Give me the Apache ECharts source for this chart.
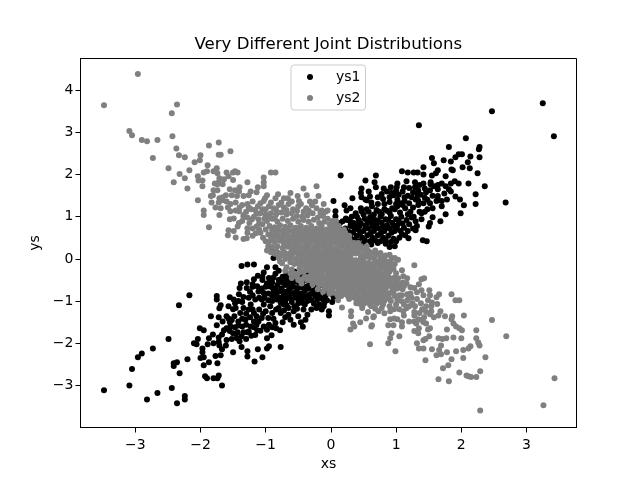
<!DOCTYPE html>
<html><head><meta charset="utf-8">
<style>html,body{margin:0;padding:0;background:#fff}#c{width:640px;height:480px}</style>
<script src="https://cdn.jsdelivr.net/npm/echarts@6/dist/echarts.min.js"></script>
</head><body><div id="c"></div>
<script>
const xTicks = [-3,-2,-1,0,1,2,3];
const yTicks = [-3,-2,-1,0,1,2,3,4];
const seriesNames = ["ys1","ys2"];
const ys1Outer = [[-3.48,-3.11],[-3.09,-3.0],[-2.82,-3.33],[-2.66,-3.18],[-2.44,-3.06],[-2.36,-3.42],[-2.24,-3.25],[-2.24,-3.33],[-3.05,-2.61],[-2.96,-2.33],[-2.9,-2.24],[-2.73,-2.12],[-2.49,-1.9],[-2.33,-1.1],[-2.17,-.86],[-2.41,-2.47],[-2.36,-2.45],[-2.41,-2.54],[-2.2,-2.38],[-2.32,-2.71],[-1.93,-2.78],[-1.9,-2.83],[-1.8,-2.83],[-1.74,-2.83],[-1.72,-2.76],[-1.67,-3.0],[-1.95,-2.52],[-2.0,-2.35],[-1.95,-2.33],[-1.87,-2.45],[-1.74,-2.47],[-1.77,-2.3],[-1.69,-2.28],[-1.97,-2.12],[-1.97,-2.21],[-2.06,-2.02],[-2.1,-2.0],[-2.04,-1.9],[-1.89,-2.02],[-1.87,-1.88],[-1.8,-2.0],[-1.81,-1.79],[-1.72,-1.86],[-1.72,-1.97],[-1.71,-2.05],[-1.67,-2.14],[-1.61,-2.05],[-2.01,-1.64],[-1.95,-1.69],[-1.84,-1.36],[-1.75,-1.57],[-1.72,-1.38],[-1.66,-1.48],[-1.57,-1.41],[-1.52,-1.45],[-1.75,-.88],[-1.75,-.96],[-1.69,-1.1],[-1.71,-1.17],[-1.55,-.91],[-1.49,-.96],[-1.57,-1.12],[-1.5,-1.19],[-1.47,-1.05],[-1.64,-1.69],[-1.6,-1.64],[-1.67,-1.79],[-1.54,-1.6],[-1.47,-1.62],[-1.55,-1.71],[-1.43,-1.74],[-1.44,-1.88],[-1.4,-1.95],[-1.34,-1.74],[-1.28,-1.74],[-1.37,-1.83],[-1.5,-2.21],[-1.37,-2.09],[-1.28,-2.19],[-1.28,-2.31],[-1.17,-2.43],[-1.05,-2.33],[-1.12,-2.14],[-.98,-2.12],[-.95,-2.07],[-.77,-2.09],[-.98,-1.88],[-.91,-1.81],[-.78,-1.69],[-1.37,-.17],[-1.28,-.13],[-1.18,-.13],[-1.03,-.32],[-1.05,-.43],[-1.05,-.5],[-1.29,-.55],[-1.18,-.48],[-1.38,-.58],[-1.4,-.69],[-1.41,-.84],[-1.29,-.69],[-.9,.18],[-.88,.02],[-1.13,-.65],[-1.11,-.77],[-1.03,-.81],[-.95,-.65],[-.88,-.77],[-.9,-.88],[-1.06,-.96],[-1.03,-1.08],[-.83,-.96],[-.77,-1.04],[-.8,-1.16],[-.77,-1.28],[-1.23,-1.08],[-1.26,-1.2],[-1.18,-1.28],[-1.34,-1.16],[-1.39,-1.28],[-1.31,-1.44],[-1.18,-1.48],[-1.23,-1.6],[-1.11,-1.48],[-1.13,-1.69],[-1.03,-1.6],[-.95,-1.56],[-.85,-1.52],[-1.04,-1.3],[-.93,-1.12],[-.65,-1.16],[-.65,-1.32],[-.57,-1.24],[-.62,-1.44],[-.57,-1.56],[-.36,-1.32],[-.39,-1.44],[-.43,-1.61],[-.67,-.57],[-.72,-.77],[-.59,-.61],[-.52,-.69],[-.47,-.49],[-.57,-.41],[-.77,-.49],[-.36,-.65],[-.44,-1.04],[-.32,-.96],[-.21,-.96],[-.11,-1.12],[-.03,-1.24],[-.03,-1.34],
[3.25,3.69],[3.42,2.91],[2.47,3.5],[1.35,3.17],[2.07,2.86],[1.81,2.65],[2.28,2.65],[2.27,2.6],[1.55,2.39],[1.58,2.27],[1.73,2.34],[1.84,2.31],[1.91,2.41],[1.96,2.48],[2.01,2.48],[2.14,2.43],[2.28,2.41],[2.1,2.29],[2.02,2.17],[2.13,2.15],[2.25,2.03],[1.42,2.17],[1.09,2.08],[1.18,2.05],[1.27,2.05],[1.33,2.05],[1.64,2.1],[1.61,2.03],[1.55,1.98],[1.42,2.0],[1.76,1.96],[1.87,2.1],[1.85,2.12],[.15,1.98],[.69,1.98],[.53,1.86],[.67,1.82],[.69,1.7],[.47,1.67],[.46,1.56],[.47,1.46],[.33,1.44],[.53,1.41],[.81,1.67],[.86,1.6],[.93,1.56],[.72,1.46],[.96,1.51],[1.02,1.79],[1.01,1.7],[1.12,1.7],[1.1,1.6],[1.13,1.46],[1.13,1.37],[1.29,1.82],[1.29,1.7],[1.36,1.75],[1.42,1.79],[1.53,1.82],[1.53,1.77],[1.44,1.67],[1.52,1.63],[1.64,1.75],[1.7,1.79],[1.64,1.65],[1.84,1.79],[1.9,1.84],[1.96,1.79],[2.11,1.79],[2.36,1.72],[2.22,1.53],[1.81,1.65],[1.84,1.6],[1.91,1.48],[1.98,1.41],[2.04,1.27],[2.22,1.3],[2.68,1.34],[1.99,1.08],[1.76,1.06],[1.68,.89],[1.56,.99],[1.52,.85],[1.5,.77],[1.78,1.41],[1.7,1.37],[1.62,1.37],[1.64,1.49],[1.64,1.41],[1.33,1.51],[1.24,1.46],[1.3,1.41],[1.42,1.32],[1.52,1.32],[1.48,1.18],[1.39,1.08],[1.39,.94],[1.27,1.0],[1.3,.89],[1.3,.68],[1.18,.66],[1.19,.49],[1.09,.58],[1.41,.44],[1.47,.42],[.04,1.37],[.21,1.27],[.3,1.2],[.24,1.15],[.38,1.08],[.46,1.2],[.47,1.13],[.63,1.25],[.55,1.39],[.07,1.01],[.07,1.13],[.23,.96],[.18,.89],[.43,.92],[.35,.85]];
const ys1Dense = [[.5,1.05],[.58,1.12],[.66,1.05],[.74,1.12],[.82,1.18],[.9,1.1],[.98,1.18],[1.06,1.1],[1.14,1.2],[1.22,1.12],[.52,.95],[.6,.98],[.68,.92],[.76,1.0],[.84,.94],[.92,1.02],[1.0,.94],[1.08,1.0],[1.16,.92],[1.24,.98],[.46,.84],[.54,.8],[.62,.86],[.7,.8],[.78,.86],[.86,.8],[.94,.86],[1.02,.8],[1.1,.84],[.42,.7],[.5,.66],[.58,.72],[.66,.66],[.74,.72],[.82,.66],[.9,.72],[.98,.66],[.4,.55],[.48,.5],[.56,.56],[.64,.5],[.72,.56],[.8,.5],[.88,.55],[.96,.48],[.22,.72],[.3,.78],[.38,.82],[.14,.85],[.34,.62],[.3,.5],[.42,.42],[.5,.36],[.62,.34],[.72,.38],[.84,.36],[.9,.28],[.98,.3],[.25,.92],
[-.85,-.35],[-.8,-.5],[-.74,-.42],[-.68,-.34],[-.62,-.5],[-.56,-.3],[-.5,-.55],[-.44,-.38],[-.38,-.5],[-.32,-.42],[-.26,-.58],[-.2,-.5],[-.14,-.62],[-.82,-.62],[-.76,-.7],[-.7,-.62],[-.64,-.72],[-.58,-.66],[-.52,-.78],[-.46,-.68],[-.4,-.76],[-.34,-.7],[-.28,-.82],[-.22,-.72],[-.16,-.78],[-.08,-.72],[-.72,-.85],[-.66,-.9],[-.6,-.82],[-.54,-.92],[-.48,-.85],[-.42,-.92],[-.36,-.88],[-.3,-.98],[-.24,-.88],[-.16,-.92],[-.08,-.86],[0,-.82],[.04,-.9],[-.7,-1.0],[-.6,-1.02],[-.5,-1.05],[-.4,-1.08],[-.95,-.45],[-.98,-.58],[-.9,-.55],[-.85,-.72],[-.96,-.82],[-.9,-1.0],
[-.3,.05],[-.1,.3],[.1,.2],[.2,.1],[-.2,-.2],[.05,-.1],[-.45,.12],[.28,.32],[.1,.55],[-.05,.62]];
const ys1Fill = [[.55,1.18],[.62,1.0],[.7,1.16],[.78,1.06],[.86,1.14],[.94,1.2],[1.02,1.25],[1.1,1.28],[1.18,1.06],[1.26,1.22],[1.34,1.28],[1.36,1.12],[1.32,.78],[.56,.9],[.64,.78],[.72,.9],[.8,.76],[.88,.92],[.96,.78],[1.04,.9],[1.12,.74],[1.2,.82],[1.26,.72],[.45,.62],[.53,.74],[.61,.6],[.69,.74],[.77,.62],[.85,.76],[.93,.62],[1.01,.72],[1.07,.66],[1.14,.56],[.36,.72],[.44,.78],[.52,.44],[.6,.42],[.68,.44],[.76,.42],[.84,.44],[.92,.4],[1.0,.42],[1.05,.5],[.28,.64],[.36,.46],[.3,.88],[.4,1.0],[.32,1.0],[.15,.7],[.1,.78],[.02,.82],[.2,.55],[.14,.62],
[1.02,1.4],[1.08,1.32],[1.18,1.5],[1.2,1.32],[1.26,1.58],[1.34,1.62],[1.38,1.52],[1.44,1.45],[1.46,1.58],[1.56,1.5],[1.58,1.72],[1.2,1.68],[1.34,1.38],[1.48,1.4],[1.56,1.2],[1.44,1.12],[1.0,1.3],[.9,1.35],[.82,1.3],[.72,1.3],[.6,1.48],[.62,1.34],[.8,1.42],[.9,1.46],[.78,1.54],[.58,1.6],[1.04,1.52],[1.0,1.62],[.92,1.7],[1.16,1.84],[1.76,1.72],[1.74,1.55],[1.7,1.25],
[-.8,-.28],[-.74,-.56],[-.68,-.46],[-.62,-.38],[-.56,-.54],[-.5,-.42],[-.44,-.6],[-.38,-.36],[-.32,-.55],[-.26,-.46],[-.2,-.66],[-.14,-.52],[-.08,-.6],[-.02,-.66],[.02,-.72],[-.9,-.68],[-.8,-.78],[-.74,-.92],[-.68,-.78],[-.62,-.68],[-.56,-.8],[-.5,-.94],[-.44,-.82],[-.38,-.66],[-.32,-.84],[-.26,-.74],[-.2,-.84],[-.12,-.96],[-.06,-.98],[.02,-1.02],[-.84,-.86],[-.78,-.92],[-.72,-1.08],[-.62,-.94],[-.56,-1.12],[-.46,-1.0],[-.36,-1.0],[-.26,-1.06],[-.18,-1.08],[-.1,-1.04],[-.68,-1.1],[-.52,-1.18],[-.42,-1.2],[-.3,-1.2],[-.22,-1.16],[-.14,-1.2],[-.72,-1.22],[-.7,-1.38],[-.5,-1.36],[-.46,-1.5],
[-1.6,-1.36],[-1.55,-1.5],[-1.48,-1.36],[-1.42,-1.48],[-1.36,-1.42],[-1.3,-1.3],[-1.24,-1.38],[-1.2,-1.2],[-1.14,-1.36],[-1.1,-1.2],[-1.06,-1.4],[-1.0,-1.24],[-.96,-1.4],[-.9,-1.28],[-.88,-1.42],[-.84,-1.2],[-.74,-1.5],[-1.42,-1.58],[-1.36,-1.6],[-1.3,-1.56],[-1.26,-1.72],[-1.18,-1.62],[-1.14,-1.56],[-1.08,-1.7],[-.98,-1.68],[-.9,-1.62],[-.84,-1.64],[-1.5,-1.76],[-1.6,-1.92],[-1.52,-1.9],[-1.46,-1.78],[-1.3,-1.9],[-1.22,-1.82],[-1.16,-1.8],[-1.46,-1.16],[-1.42,-1.0],[-1.36,-1.02],[-1.34,-.9],[-1.26,-.92],[-1.2,-.86],[-1.16,-.96],[-1.1,-.92],[-1.24,-.78],[-1.2,-.66],[-1.06,-.7],[-1.0,-.66],[-1.02,-.92],[-.96,-.98],[-.94,-.55],[-.88,-.44],[-1.12,-.4],[-1.2,-.6],[-.98,-.2],[-.85,-.2]];
const ys2Outer = [[-2.96,4.38],[-3.48,3.64],[-2.36,3.66],[-2.44,3.45],[-3.09,3.03],[-3.05,2.93],[-2.9,2.82],[-2.82,2.79],[-2.66,2.82],[-2.43,2.91],[-2.73,2.39],[-2.37,2.62],[-2.33,2.46],[-2.24,2.41],[-1.87,2.69],[-1.72,2.76],[-1.72,2.47],[-1.69,2.47],[-1.54,2.55],[-2.0,2.46],[-2.01,2.34],[-2.09,2.29],[-2.49,2.15],[-2.17,2.1],[-2.32,2.01],[-2.24,1.91],[-2.41,1.82],[-2.2,1.67],[-2.04,1.96],[-2.03,1.86],[-1.97,1.86],[-1.97,1.72],[-1.89,2.22],[-1.95,2.05],[-1.9,2.08],[-1.8,2.08],[-1.75,2.15],[-1.74,2.03],[-1.6,2.05],[-1.57,1.96],[-1.5,2.05],[-1.47,2.08],[-1.43,2.05],[-1.5,1.87],[-1.71,1.91],[-1.64,1.89],[-1.72,1.82],[-1.78,1.79],[-1.66,1.77],[-1.74,1.77],[-1.28,1.82],[-1.8,1.63],[-1.74,1.63],[-1.81,1.51],[-1.84,1.49],[-1.55,1.65],[-1.47,1.63],[-1.4,1.7],[-1.41,1.6],[-2.04,1.39],[-1.83,1.34],[-1.95,1.15],[-1.95,1.04],[-1.87,.75],[-1.71,1.04],[-1.71,1.44],[-1.66,1.46],[-1.72,1.34],[-1.67,1.39],[-1.77,1.22],[-1.69,1.2],[-1.61,1.51],[-1.52,1.51],[-1.44,1.49],[-1.34,1.49],[-1.03,1.93],[-.92,2.05],[-.85,2.05],[-1.03,1.82],[-1.03,1.72],[-1.12,1.7],[-1.14,1.58],[-1.23,1.6],[-1.26,1.51],[-.98,1.51],[-1.01,1.44],[-1.03,1.37],[-.81,1.53],[-.85,1.44],[-.62,1.56],[-.51,1.49],[-.49,1.37],[-.72,1.44],[-.66,1.44],[-.42,1.67],[-.22,1.72],[-.37,1.51],[-.19,1.49],[-.29,1.27],[-.11,1.3],[-.34,1.15],[-.14,1.15],[-.05,1.15],[-1.54,1.13],[-1.46,1.15],[-1.4,1.22],[-1.41,1.13],[-1.34,1.04],[-1.55,.94],[-1.49,.96],[-1.34,1.0],[-1.41,.85],[-1.43,.77],[-1.18,1.0],[-1.21,.94],[-1.11,.94],[-1.57,.68],[-1.49,.66],[-1.58,.56],[-1.46,.51],[-1.34,.47],[-1.29,.49],[-1.28,.73],[-1.14,.77],[-1.15,.61],
[3.43,-2.83],[3.26,-3.47],[2.29,-3.59],[2.69,-1.83],[2.47,-1.45],[2.04,-1.34],[1.85,-.84],[1.91,-.98],[1.97,-.98],[2.23,-1.69],[2.23,-1.88],[2.26,-1.98],[2.28,-2.05],[2.37,-2.33],[2.29,-2.66],[2.23,-2.8],[2.15,-2.8],[2.08,-2.76],[2.11,-2.78],[1.97,-2.69],[2.03,-2.35],[2.03,-2.16],[2.11,-2.12],[2.14,-2.07],[1.92,-2.19],[2.0,-1.88],[1.88,-1.86],[1.78,-1.67],[1.77,-1.88],[1.71,-1.9],[1.65,-1.88],[2.01,-1.69],[1.97,-1.64],[1.92,-1.6],[1.88,-1.53],[1.85,-1.43],[1.86,-1.36],[1.75,-1.36],[1.78,-2.21],[1.85,-2.38],[1.8,-2.52],[1.72,-2.59],[1.81,-2.9],[1.65,-2.85],[1.69,-2.05],[1.66,-2.16],[1.62,-2.28],[1.69,-2.26],[1.45,-2.4],[1.55,-2.14],[1.32,-2.0],[1.35,-2.12],[1.42,-2.12],[1.42,-1.93],[1.45,-1.9],[1.51,-1.83],[1.49,-1.67],[1.52,-1.64],[1.46,-1.53],[1.34,-1.76],[1.28,-1.71],[1.35,-1.64],[.99,-2.19],[.88,-2.0],[.91,-1.88],[.93,-1.76],[1.05,-1.83],[.6,-2.02],[.3,-1.67],[.36,-1.6],[.34,-1.53],[.45,-1.5],[.63,-1.57],[.62,-1.6],[.65,-1.38],[.66,-1.36],[.31,-1.24],[.31,-1.36],[.54,-1.41],[.88,-1.57],[.96,-1.57],[.91,-1.43],[.97,-1.41],[1.02,-1.43],[1.09,-1.5],[1.09,-1.6],[1.2,-1.48],[1.28,-1.34],[1.28,-1.48],[1.34,-1.43],[1.31,-1.53],[1.39,-1.45],[1.42,-1.5],[1.43,-1.38],[1.52,-1.31],[1.58,-1.38],[1.65,-1.34],[1.68,-1.24],[1.54,-1.24],[1.4,-1.19],[1.28,-1.26],[1.63,-1.07],[1.54,-1.12],[1.49,-.98],[1.55,-1.03],[1.52,-.86],[1.51,-.74],[1.66,-.84],[1.62,-.91],[1.43,-.46],[1.39,-.48],[1.35,-.6],[1.39,-.74],[1.42,-.86],[1.32,-.79],[1.28,-.15],[1.09,-.27],[1.03,-.46],[1.0,-.34],[1.11,-.41],[1.17,-.46],[1.16,-.58],[1.22,-.67],[1.28,-.69],[1.0,-.67],[.94,-.67],[.96,-.79],[1.05,-.86],[1.09,-.86],[1.17,-.84],[1.17,-.98],[1.25,-1.05],[1.29,-1.12],[1.16,-1.17],[1.11,-1.24],[1.12,-1.34],[1.05,-1.19],[.97,-1.19],[.91,-1.24],[.82,-1.29],[.73,-1.24],[1.03,-.02],[.93,.02],[.91,-.06],[.83,-.13],[.17,-1.15],[.11,-.98],[.39,-1.05],[.5,-1.07],[.62,-1.12],[.57,-1.26]];
const ys2Dense = [[-1.28,1.3],[-1.2,1.36],[-1.12,1.25],[-1.22,1.18],[-1.3,1.12],[-1.05,1.18],[-.95,1.25],[-.88,1.2],[-.8,1.28],[-.72,1.22],[-.65,1.3],[-.58,1.18],[-.5,1.25],[-.42,1.12],[-.38,1.2],[-1.25,.85],[-1.08,1.08],[-1.0,1.05],[-.92,1.08],[-.84,1.05],[-.76,1.1],[-.68,1.05],[-.6,1.08],[-.52,1.02],[-.44,1.0],[-.36,1.03],[-.28,1.08],[-.2,.98],[-.12,1.02],[-.05,.95],[-1.05,.82],[-.98,.9],[-.9,.95],[-.82,.88],[-.74,.95],[-.66,.9],[-.58,.95],[-.5,.88],[-.42,.92],[-.34,.88],[-.26,.93],[-.18,.85],[-.1,.88],[-.02,.82],[-1.08,.62],[-1.0,.7],[-.94,.78],[-.86,.75],[-.78,.8],[-.7,.76],[-.62,.8],[-.54,.74],[-.46,.78],[-.38,.74],[-.3,.78],[-.22,.72],[-.14,.76],[-.06,.7],[.02,.74],[-1.2,.55],[-1.04,.5],[-.96,.58],[-.88,.62],[-.8,.66],[-.72,.62],[-.64,.66],[-.56,.6],[-.48,.64],[-.4,.6],[-.32,.64],[-.24,.58],[-.16,.62],[-.08,.56],[0,.6],[.08,.62],[-1.0,.42],[-.9,.48],[-.82,.52],[-.74,.48],[-.66,.52],[-.58,.47],[-.5,.5],[-.42,.46],[-.34,.5],[-.26,.45],[-.18,.49],[-.1,.44],[-.02,.48],[.06,.5],[.14,.45],[-.72,.36],[-.64,.38],[-.56,.33],[-.48,.37],[-.4,.32],[-.32,.36],[-.24,.31],[-.16,.35],[-.08,.3],[0,.34],[.08,.37],[.16,.32],[.24,.38],[-.6,.22],[-.52,.24],[-.44,.19],[-.36,.23],[-.28,.18],[-.2,.22],[-.12,.17],[-.04,.21],[.04,.18],[.12,.22],[.2,.17],[.28,.22],[.34,.3],[-.5,.1],[-.42,.06],[-.34,.1],[-.26,.05],[-.18,.09],[-.1,.04],[-.02,.08],[.06,.04],[.14,.09],[.22,.04],[.3,.08],[.38,.13],[-.46,-.02],[-.38,-.06],[-.3,-.02],[-.22,-.07],[-.14,-.03],[-.06,-.08],[.02,-.04],[.1,-.08],[.18,-.03],[.26,-.08],[.34,-.04],[.42,-.08],[.5,-.02],[.6,.03],[.68,-.05],[-.42,-.16],[-.34,-.2],[-.26,-.15],[-.18,-.2],[-.1,-.16],[-.02,-.21],[.06,-.17],[.14,-.21],[.22,-.16],[.3,-.2],[.38,-.16],[.46,-.2],[.54,-.15],[.62,-.19],[.7,-.14],[.78,-.2],[-.3,-.32],[-.22,-.28],[-.14,-.33],[-.06,-.29],[.02,-.34],[.1,-.3],[.18,-.34],[.26,-.29],[.34,-.33],[.42,-.29],[.5,-.33],[.58,-.28],[.66,-.32],[.74,-.28],[.82,-.33],[-.2,-.45],[-.12,-.41],[-.04,-.46],[.04,-.42],[.12,-.46],[.2,-.41],[.28,-.45],[.36,-.41],[.44,-.45],[.52,-.41],[.6,-.45],[.68,-.41],[.76,-.45],[.84,-.41],[.92,-.47],[-.1,-.58],[-.02,-.54],[.06,-.59],[.14,-.55],[.22,-.59],[.3,-.54],[.38,-.58],[.46,-.54],[.54,-.58],[.62,-.54],[.7,-.58],[.78,-.54],[.86,-.58],[.02,-.7],[.1,-.66],[.18,-.71],[.26,-.67],[.34,-.71],[.42,-.66],[.5,-.7],[.58,-.66],[.66,-.7],[.74,-.66],[.82,-.7],[.22,-.83],[.3,-.79],[.38,-.84],[.46,-.79],[.54,-.83],[.62,-.79],[.7,-.83],[.78,-.79],[.86,-.85],[.28,-.95],[.36,-.92],[.44,-.96],[.52,-.92],[.6,-.96],[.68,-.92],[.76,-.97],[.84,-.93],[.9,-.2],[.98,-.12],[.88,-.32],[.96,-.45],[.9,-.55],[1.0,-.55],[.95,-.72],[.88,-.88],[.92,-1.0],[1.02,-.98],[1.1,-.72],[1.12,-1.08],[1.2,-.9],[.8,-1.08],[.7,-1.06],[.6,-1.08],[.52,-1.04],[.44,-1.06]];
const ys2Fill = [[-.9,.68],[-.82,.7],[-.74,.67],[-.66,.7],[-.58,.67],[-.5,.69],[-.42,.66],[-.34,.7],[-.26,.67],[-.18,.68],[-.1,.66],[-.02,.67],[.06,.69],[.14,.66],[.22,.62],[-.92,.54],[-.84,.57],[-.76,.54],[-.68,.56],[-.6,.54],[-.52,.56],[-.44,.53],[-.36,.55],[-.28,.52],[-.2,.54],[-.12,.52],[-.04,.54],[.04,.55],[.12,.54],[.2,.5],[.28,.46],[-.94,.42],[-.86,.4],[-.78,.43],[-.7,.41],[-.62,.43],[-.54,.41],[-.46,.43],[-.38,.4],[-.3,.42],[-.22,.39],[-.14,.42],[-.06,.39],[.02,.41],[.1,.43],[.18,.39],[.3,.3],[-.9,.28],[-.82,.3],[-.74,.26],[-.66,.29],[-.58,.27],[-.5,.29],[-.42,.26],[-.34,.29],[-.26,.25],[-.18,.28],[-.1,.25],[-.02,.27],[.06,.25],[.14,.28],[.22,.26],[.4,.24],[-.8,.14],[-.72,.17],[-.64,.13],[-.56,.15],[-.48,.17],[-.4,.13],[-.32,.16],[-.24,.12],[-.16,.14],[-.08,.11],[0,.14],[.08,.11],[.16,.13],[.24,.11],[.32,.15],[.42,.18],[.5,.12],[-.7,.0],[-.62,.03],[-.54,.0],[-.5,-.1],[-.42,.0],[-.34,.03],[-.26,-.01],[-.18,.02],[-.1,-.03],[-.02,.01],[.06,-.02],[.14,.02],[.22,-.02],[.3,.01],[.38,-.03],[.46,.03],[.54,.06],[-.56,-.12],[-.48,-.22],[-.38,-.12],[-.3,-.09],[-.22,-.13],[-.14,-.1],[-.06,-.14],[.02,-.11],[.1,-.14],[.18,-.1],[.26,-.14],[.34,-.11],[.42,-.14],[.5,-.1],[.58,-.09],[.66,-.1],[.74,-.08],[.8,-.12],[-.38,-.27],[-.3,-.25],[-.22,-.22],[-.14,-.26],[-.06,-.22],[.02,-.27],[.1,-.24],[.18,-.27],[.26,-.23],[.34,-.26],[.42,-.23],[.5,-.26],[.58,-.22],[.66,-.25],[.74,-.22],[.84,-.25],[.9,-.3],[-.26,-.39],[-.18,-.37],[-.1,-.49],[-.04,-.37],[.04,-.36],[.12,-.39],[.2,-.36],[.28,-.38],[.36,-.35],[.44,-.38],[.52,-.35],[.6,-.38],[.68,-.35],[.76,-.38],[.84,-.35],[-.14,-.52],[.02,-.48],[.1,-.51],[.18,-.48],[.26,-.5],[.34,-.48],[.42,-.51],[.5,-.48],[.58,-.51],[.66,-.48],[.74,-.51],[.82,-.48],[.9,-.5],[-.02,-.64],[.06,-.66],[.14,-.62],[.22,-.65],[.3,-.62],[.38,-.64],[.46,-.62],[.54,-.65],[.62,-.62],[.7,-.64],[.78,-.62],[.86,-.66],[.12,-.76],[.2,-.78],[.28,-.74],[.36,-.77],[.44,-.74],[.52,-.77],[.6,-.74],[.68,-.76],[.76,-.73],[.84,-.76],[.92,-.8],[.26,-.88],[.34,-.87],[.42,-.9],[.5,-.87],[.58,-.89],[.66,-.86],[.74,-.89],[.82,-.87],[1.06,-.65],[1.1,-.56],[1.08,-1.0],[1.0,-1.08],[.9,-1.12],[.78,-1.16],[.68,-1.18],[.48,-1.16],[1.22,-.82],[1.32,-.95],[1.38,-1.05],[1.46,-1.12],[1.36,-1.28],[1.46,-1.26],[1.2,-1.12],[1.24,-.92],
[-1.26,1.22],[-1.16,1.16],[-1.08,1.32],[-1.0,1.18],[-.92,1.34],[-.84,1.16],[-.76,1.34],[-.68,1.16],[-.6,1.36],[-.52,1.14],[-.46,1.3],[-.32,1.36],[-.22,1.2],[-.24,1.36],[-.16,1.1],[-.08,1.12],[-1.36,1.28],[-1.46,1.34],[-1.54,1.3],[-1.6,1.36],[-1.58,1.22],[-1.14,1.08],[-1.28,.98],[-1.36,.9],[-1.2,.72],[-1.1,.84],[-.96,1.0],[-1.02,.95],[-.86,.96],[-1.1,.7],[-1.28,.62],
[-.75,-.1],[-.68,-.2],[-.6,-.25],[-.62,-.08],[-.55,-.35],[-.48,-.32],[-.42,-.3],[-.4,-.42],[-.33,-.42],[-.3,-.52],[-.22,-.55],[-.18,-.62],[-.1,-.68],[-.04,-.72],[-.12,-.78],[-.2,-.72],[-.02,-.82],[.04,-.8],[.1,-.86],[.16,-.88],[-.5,-.5],[-.45,-.58],[-.6,-.45],[-.8,.02],[-.86,.12],[-.92,.16],[-.78,-.06],
[.3,.4],[.22,.48],[.28,.55],[.18,.6],[.12,.68],[.05,.8],[.12,.78],[.38,.3],[.44,.28],[.42,.38],[.5,.24],[.56,.2],[.62,.14],[.7,.1],[.76,.04],[.82,.0],[.58,.1],[.68,.2],[.76,.14],[.84,.08],[.9,.1],[.55,.3],[.98,.02],[.02,.9],[.08,.9],
[-.7,.09],[-.6,.08],[-.52,-.05],[-.44,-.1],[-.36,-.15],[-.7,-.28],[-.62,-.34],[-.52,-.42],[-.44,-.48],[-.36,-.5],[-.26,-.46],[-.18,-.44],[-.28,-.6],[-.12,-.6],[-.06,-.5],[-.84,.2],[-.76,.08],[-.96,.3],[-.98,.2],[-.06,-.44],[.12,-.7],[.46,.1],[.58,.18],[.66,.02],[.34,.2],[.46,.3],[.36,.38],[.24,.44],[.14,.55],[.2,.7],[.06,.9],[.76,-.02],[.84,-.06],[.92,-.12],[.96,-.24],[1.02,-.7],[1.04,-.58],[1.12,-.64],[.88,-.42],[.94,-.6],[.98,-.88],[.9,-.95],[.82,-1.0],[.74,-1.02],[.66,-1.0],[.56,-1.02],[.48,-.98],[.4,-1.0]];

const FONT = "DejaVu Sans";
const fmt = v => String(v).replace('-', '\u2212');
function axis(name, ticks, min, max, gap){
  return {type:'value',name,nameLocation:'middle',nameGap:gap,min,max,
    nameTextStyle:{fontFamily:FONT,fontSize:14,color:'#000'},
    splitLine:{show:false},
    axisLine:{show:true,onZero:false,lineStyle:{color:'#000',width:1}},
    axisTick:{show:true,length:5,lineStyle:{color:'#000',width:1},customValues:ticks},
    axisLabel:{fontFamily:FONT,fontSize:14,color:'#000',margin:11,customValues:ticks,formatter:fmt}};
}
const chart = echarts.init(document.getElementById('c'),null,{renderer:'canvas'});
const yAx = axis('ys',yTicks,-3.995,4.75,25);
yAx.axisLabel.margin = 7;
chart.setOption({
  animation:false,backgroundColor:'#fff',
  title:{text:'Very Different Joint Distributions',left:189.5,top:31,
    textStyle:{fontFamily:FONT,fontSize:16.6,fontWeight:'normal',color:'#000'}},
  grid:{left:80.5,right:63.5,top:58.5,bottom:52.5,show:true,borderColor:'#000',borderWidth:1,backgroundColor:'#fff'},
  xAxis:axis('xs',xTicks,-3.84,3.767,28),
  yAxis:yAx,
  legend:{orient:'vertical',left:291,top:65,itemWidth:30,itemHeight:6,itemGap:7,padding:[5,5,5,16],
    borderColor:'#ccc',borderWidth:1,borderRadius:3,backgroundColor:'#fff',
    data:seriesNames.map(n=>({name:n,icon:'circle'})),
    textStyle:{fontFamily:FONT,fontSize:14,color:'#000',padding:[0,0,0,6]}},
  series:[
    {name:seriesNames[0],type:'scatter',symbolSize:6,itemStyle:{color:'#000',opacity:1},data:ys1Outer.concat(ys1Dense,ys1Fill),z:2},
    {name:seriesNames[1],type:'scatter',symbolSize:6,itemStyle:{color:'#808080',opacity:1},data:ys2Outer.concat(ys2Dense,ys2Fill),z:3}
  ]
});
</script></body></html>
